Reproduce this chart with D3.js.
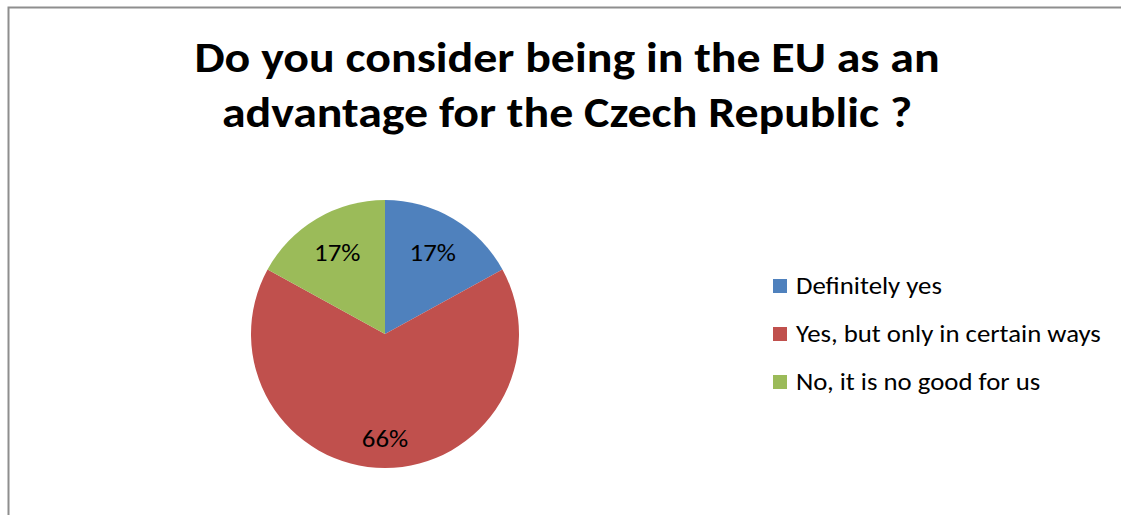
<!DOCTYPE html>
<html>
<head>
<meta charset="utf-8">
<script src="https://cdn.jsdelivr.net/npm/d3@7"></script>
<style>
  html, body { margin: 0; padding: 0; background: #fff; }
  svg { display: block; }
  text { font-family: Carlito, Calibri, Lato, "Open Sans", sans-serif; }
</style>
</head>
<body>
<svg id="chart" width="1121" height="515"></svg>
<script>
const categories = ["Definitely yes", "Yes, but only in certain ways", "No, it is no good for us"];
const values = [17, 66, 17];
const colors = ["#4F81BD", "#C0504D", "#9BBB59"];
const titleLines = ["Do you consider being in the EU as an", "advantage for the Czech Republic ?"];

const svg = d3.select("#chart");
const SX = 1.14; // horizontal stretch of the reference's text

// chart frame (extends past right/bottom edge as in the reference)
svg.append("rect")
  .attr("x", 8.5).attr("y", 7.5)
  .attr("width", 1200).attr("height", 600)
  .attr("fill", "#fff")
  .attr("stroke", "#8e8e8e")
  .attr("stroke-width", 2);

// title
titleLines.forEach((t, i) => {
  svg.append("text")
    .attr("transform", `translate(567,${72 + i * 55}) scale(${SX},1)`)
    .attr("text-anchor", "middle")
    .attr("font-weight", "bold")
    .attr("font-size", 42)
    .attr("fill", "#000")
    .text(t);
});

// pie
const cx = 385, cy = 334, r = 134;
const total = d3.sum(values);
const pie = d3.pie().sort(null).value(d => d)(values);
const arc = d3.arc().innerRadius(0).outerRadius(r);
const g = svg.append("g").attr("transform", `translate(${cx},${cy})`);
g.selectAll("path").data(pie).enter().append("path")
  .attr("d", arc)
  .attr("fill", (d, i) => colors[i]);

const labelArcSmall = d3.arc().innerRadius(r * 0.70).outerRadius(r * 0.70);
const labelArcLarge = d3.arc().innerRadius(r * 0.78).outerRadius(r * 0.78);
g.selectAll("text.lbl").data(pie).enter().append("text")
  .attr("class", "lbl")
  .attr("transform", d => {
    const a = (d.endAngle - d.startAngle) > Math.PI ? labelArcLarge : labelArcSmall;
    const c = a.centroid(d);
    return `translate(${c[0]},${c[1]}) scale(${SX},1)`;
  })
  .attr("text-anchor", "middle")
  .attr("dy", "0.35em")
  .attr("font-size", 23.5)
  .attr("fill", "#000")
  .text(d => Math.round(d.data / total * 100) + "%");

// legend
const legend = svg.append("g").attr("transform", "translate(773,286)");
const rows = legend.selectAll("g").data(categories).enter().append("g")
  .attr("transform", (d, i) => `translate(0,${i * 48})`);
rows.append("rect")
  .attr("x", 0).attr("y", -7).attr("width", 14).attr("height", 14)
  .attr("fill", (d, i) => colors[i]);
rows.append("text")
  .attr("transform", `translate(23,0) scale(${SX},1)`)
  .attr("dy", "0.35em")
  .attr("font-size", 23.5)
  .attr("fill", "#000")
  .text(d => d);
</script>
</body>
</html>
